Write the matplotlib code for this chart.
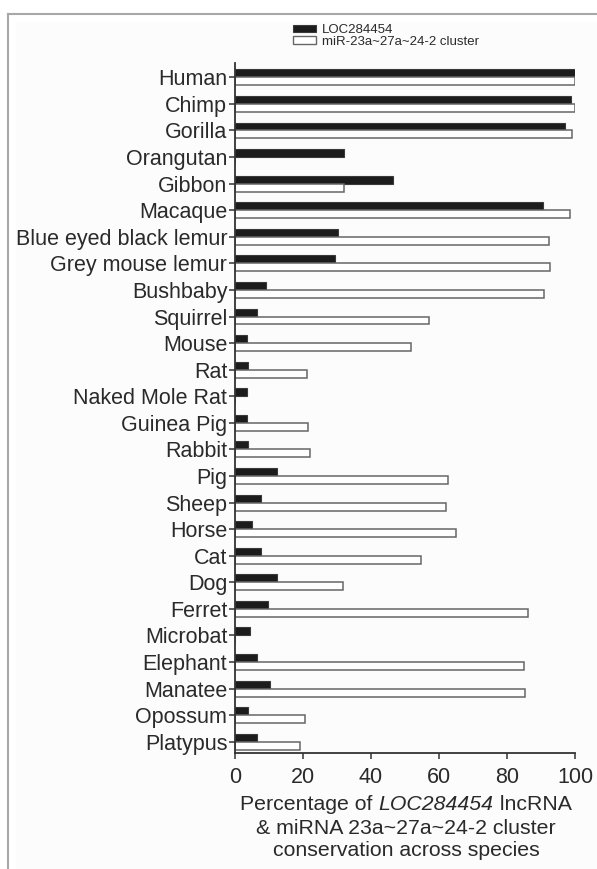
import matplotlib
matplotlib.use("Agg")
import matplotlib.pyplot as plt
from matplotlib.patches import Patch, Rectangle
from matplotlib.lines import Line2D
import numpy as np

plt.rcParams['font.family'] = ['Liberation Sans', 'DejaVu Sans']

species = ["Human", "Chimp", "Gorilla", "Orangutan", "Gibbon", "Macaque",
           "Blue eyed black lemur", "Grey mouse lemur", "Bushbaby", "Squirrel",
           "Mouse", "Rat", "Naked Mole Rat", "Guinea Pig", "Rabbit", "Pig",
           "Sheep", "Horse", "Cat", "Dog", "Ferret", "Microbat", "Elephant",
           "Manatee", "Opossum", "Platypus"]

loc284454 = [100, 98.9, 97.2, 32.0, 46.4, 90.5, 30.3, 29.5, 9.2, 6.6,
             3.4, 3.8, 3.4, 3.5, 3.9, 12.4, 7.5, 5.0, 7.6, 12.4,
             9.7, 4.4, 6.4, 10.2, 3.8, 6.6]

mir_cluster = [100, 100, 99.1, 0, 32.0, 98.4, 92.4, 92.6, 91.0, 57.1,
               51.8, 21.1, 0, 21.6, 22.2, 62.7, 62.2, 65.0, 54.8, 31.9,
               86.1, 0, 85.0, 85.3, 20.7, 19.0]

xticks = [0, 20, 40, 60, 80, 100]

W, H = 597, 869
fig = plt.figure(figsize=(W / 100, H / 100), dpi=100)

# page frame: light panel with grey top and left rules
fig.add_artist(Rectangle((16 / W, 0), 1, 1 - 22 / H, transform=fig.transFigure,
                         facecolor="#fcfcfc", edgecolor="none", zorder=0))
fig.add_artist(Line2D([8 / W, 1], [1 - 14 / H, 1 - 14 / H], transform=fig.transFigure,
                      color="#a8a8a8", lw=1.5))
fig.add_artist(Line2D([8 / W, 8 / W], [0, 1 - 14 / H], transform=fig.transFigure,
                      color="#a8a8a8", lw=1.5))

ax = fig.add_axes([235 / W, 1 - 753 / H, 340 / W, 690 / H])
ax.patch.set_alpha(0)

y = np.arange(len(species))
h = 0.3
ax.barh(y - h / 2, loc284454, height=h, color="#1c1c1c", edgecolor="#3a3a3a",
        linewidth=0.8, label="LOC284454")
ax.barh(y + h / 2, mir_cluster, height=h, color="white", edgecolor="#666666",
        linewidth=1.1, label="miR-23a~27a~24-2 cluster")

ax.set_xlim(0, 100)
ax.set_ylim(25.425, -0.54)
ax.set_yticks(y)
ax.set_yticklabels(species)
ax.set_xticks(xticks)
ax.set_xticklabels([str(t) for t in xticks])

for s in ("top", "right"):
    ax.spines[s].set_visible(False)
for s in ("left", "bottom"):
    ax.spines[s].set_color("#333333")
    ax.spines[s].set_linewidth(1.3)

ax.tick_params(axis="y", length=4, width=1.1, color="#333333", pad=1.5,
               labelsize=15.5, labelcolor="#2a2a2a")
ax.tick_params(axis="x", length=4, width=1.1, color="#333333", pad=6,
               labelsize=15.5, labelcolor="#2a2a2a")

# three-line axis title; the gene name on the first line is italic
cx = 406 / W
tcol = "#2a2a2a"
tsize = 15.3
parts = [("Percentage of ", "normal"), ("LOC284454", "italic"), (" lncRNA", "normal")]
renderer = fig.canvas.get_renderer()
pieces = []
for txt, style in parts:
    t = fig.text(0, 1 - 805 / H, txt, ha="left", va="center", fontsize=tsize,
                 style=style, color=tcol)
    pieces.append(t)
widths = [p.get_window_extent(renderer).width for p in pieces]
x0 = cx * W - sum(widths) / 2
for p, w in zip(pieces, widths):
    p.set_x(x0 / W)
    x0 += w
fig.text(cx, 1 - 828 / H, "& miRNA 23a~27a~24-2 cluster", ha="center",
         va="center", fontsize=tsize, color=tcol)
fig.text(cx, 1 - 851 / H, "conservation across species", ha="center",
         va="center", fontsize=tsize, color=tcol)

handles = [Patch(facecolor="#1c1c1c", edgecolor="#3a3a3a", linewidth=0.8),
           Patch(facecolor="white", edgecolor="#666666", linewidth=1.0)]
fig.legend(handles, ["LOC284454", "miR-23a~27a~24-2 cluster"],
           loc="upper left", bbox_to_anchor=(284 / W, 1 - 15 / H),
           frameon=False, fontsize=9.5, handlelength=1.7, handleheight=0.5,
           handletextpad=0.5, labelspacing=-0.05, borderpad=0.2,
           labelcolor=tcol)

fig.savefig("out.png", dpi=100)
